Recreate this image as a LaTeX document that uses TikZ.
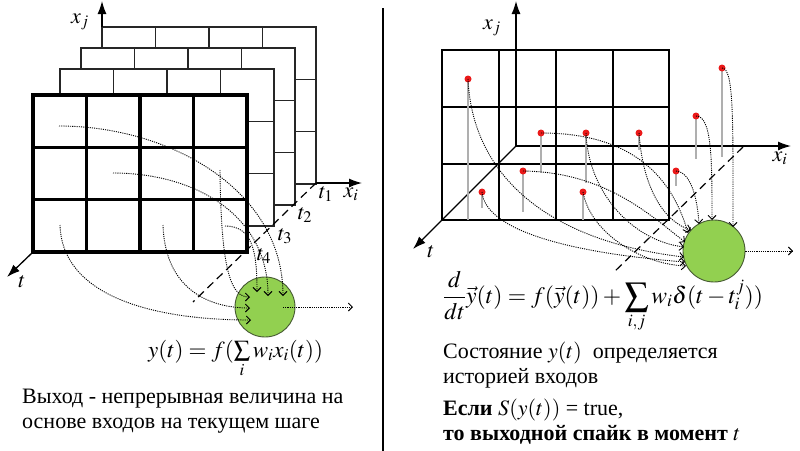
\documentclass[tikz,border=0pt]{standalone}
\usepackage{mathptmx}
\usepackage{fontspec}
\setmainfont{Liberation Serif}
\newfontfamily\rutext{Liberation Serif}
\usetikzlibrary{arrows.meta,calc}
\definecolor{neurongreen}{RGB}{146,208,80}
\definecolor{neuronedge}{RGB}{70,90,50}
\definecolor{stemgray}{RGB}{175,175,175}
\definecolor{dotred}{RGB}{235,25,25}
\begin{document}
\begin{tikzpicture}[x=1pt,y=-1pt,
  frontgrid/.style={line width=3.6pt},
  backgrid/.style={line width=1.1pt, draw=black!85},
  rgrid/.style={line width=2pt},
  axisline/.style={line width=1.3pt, -{Latex[length=13pt,width=9pt]}},
  spike/.style={line width=0.9pt, dash pattern=on 1.1pt off 1.1pt, -{Straight Barb[length=4pt,width=8pt]}},
  diag/.style={line width=1.2pt, dash pattern=on 8pt off 5pt},
  neuron/.style={circle, minimum size=60pt, inner sep=0pt, fill=neurongreen, draw=neuronedge, line width=0.9pt},
  spikedot/.style={circle, minimum size=7pt, inner sep=0pt, fill=dotred},
  stem/.style={line width=1.6pt, draw=stemgray},
  lbl/.style={inner sep=0pt, font=\fontsize{22}{26}\selectfont},
  txt/.style={inner sep=0pt, anchor=base west, font=\rutext\fontsize{22}{25}\selectfont},
  formula/.style={inner sep=0pt, anchor=base west, font=\fontsize{23}{27}\selectfont},
]
\useasboundingbox (0,0) rectangle (800,450);
\fill[white] (0,0) rectangle (800,450);

% ================= LEFT PANEL =================
\foreach \X/\Y in {102/27, 81/48, 60/69} {
  \filldraw[backgrid, fill=white] (\X,\Y) rectangle ++(214,157);
  \foreach \i in {1,2,3} \draw[backgrid] (\X+53.5*\i,\Y) -- ++(0,157);
  \foreach \j in {1,2} \draw[backgrid] (\X,\Y+52.33*\j) -- ++(214,0);
}
\filldraw[frontgrid, fill=white] (33,95) rectangle (247,252);
\foreach \i in {1,2,3} \draw[frontgrid] (33+53.5*\i,95) -- ++(0,157);
\foreach \j in {1,2} \draw[frontgrid] (33,95+52.33*\j) -- ++(214,0);

\coordinate (Lo) at (102,27);
\coordinate (Lxj) at (102,1);
\coordinate (Li0) at (316,183);
\coordinate (Lxi) at (362,183);
\coordinate (Lt0) at (33,252);
\coordinate (Lt) at (7,277);
\draw[axisline] (Lo) -- (Lxj);
\draw[axisline] (Li0) -- (Lxi);
\draw[axisline] (Lt0) -- (Lt);
\node[lbl] (LxjL) at (80,22) {$x_j$};
\node[lbl] (LxiL) at (351,194) {$x_i$};
\node[lbl] (LtL) at (22,282) {$t$};

\coordinate (Ld1) at (316,183);
\coordinate (Ld2) at (193,302);
\draw[diag] (Ld1) -- (Ld2);
\node[lbl] (t1) at (326,194) {$t_1$};
\node[lbl] (t2) at (305,215) {$t_2$};
\node[lbl] (t3) at (285,236) {$t_3$};
\node[lbl] (t4) at (264,256) {$t_4$};

\node[neuron] (nL) at (265,307) {};

\coordinate (s1) at (59,126);
\coordinate (s2) at (113,173);
\coordinate (s3) at (220,170);
\coordinate (s4) at (60,225);
\coordinate (s5) at (163,225);
\coordinate (s6) at (225,226);
\coordinate (e1) at (283,296);
\coordinate (e2) at (268,296);
\coordinate (e3) at (250,297);
\coordinate (e4) at (251,320);
\coordinate (e5) at (250,308);
\coordinate (e6) at (257,292);
\draw[spike] (s1) .. controls (170,126) and (283,190) .. (e1);
\draw[spike] (s2) .. controls (195,173) and (268,215) .. (e2);
\draw[spike] (s3) .. controls (221,275) and (232,297) .. (e3);
\draw[spike] (s4) .. controls (62,295) and (150,320) .. (e4);
\draw[spike] (s5) .. controls (165,290) and (210,308) .. (e5);
\draw[spike] (s6) .. controls (252,226) and (257,250) .. (e6);

\coordinate (Lout0) at ($(nL)+(18,0)$);
\coordinate (Lout) at (353,307);
\draw[spike] (Lout0) -- (Lout);

\node[formula] (fL) at (148,357) {$y(t)=f(\sum\limits_i w_i x_i(t))$};

\node[txt] (tL1) at (22,403) {Выход - непрерывная величина на};
\node[txt] (tL2) at (22,428) {основе входов на текущем шаге};

\coordinate (div1) at (383,8);
\coordinate (div2) at (383,451);
\draw[line width=2.6pt] (div1) -- (div2);

% ================= RIGHT PANEL =================
\draw[rgrid] (442,50) rectangle (669,220);
\foreach \xx in {499,556,613} \draw[rgrid] (\xx,50) -- (\xx,220);
\foreach \yy in {107,164} \draw[rgrid] (442,\yy) -- (669,\yy);

\coordinate (Ro) at (516,146);
\coordinate (Rxj) at (516,1);
\coordinate (Rxi) at (791,146);
\coordinate (Rt) at (413,249);
\draw[axisline] (Ro) -- (Rxj);
\draw[axisline] (Ro) -- (Rxi);
\draw[axisline] (Ro) -- (Rt);
\node[lbl] (RxjL) at (492,28) {$x_j$};
\node[lbl] (RxiL) at (780,158) {$x_i$};
\node[lbl] (RtL) at (431,252) {$t$};

\coordinate (Rd1) at (743,147);
\coordinate (Rd2) at (613,273);
\draw[diag] (Rd1) -- (Rd2);

\node[neuron, minimum size=62pt] (nR) at (714,251) {};

\draw[stem] (468,79) -- (468,220);
\draw[stem] (541,133) -- (541,173);
\draw[stem] (586,133) -- (586,183);
\draw[stem] (639,133) -- (639,150);
\draw[stem] (722,68) -- (722,157);
\draw[stem] (696,116) -- (696,159);
\draw[stem] (523,171) -- (523,212);
\draw[stem] (482,192) -- (482,208);
\draw[stem] (583,192) -- (583,220);
\draw[stem] (676,171) -- (676,186);
\node[spikedot] (d1) at (468,79) {};
\node[spikedot] (d2) at (541,133) {};
\node[spikedot] (d3) at (586,133) {};
\node[spikedot] (d4) at (639,133) {};
\node[spikedot] (d5) at (722,68) {};
\node[spikedot] (d6) at (696,116) {};
\node[spikedot] (d7) at (523,171) {};
\node[spikedot] (d8) at (482,192) {};
\node[spikedot] (d9) at (583,192) {};
\node[spikedot] (d10) at (676,171) {};

\coordinate (f1) at (684,257);
\coordinate (f2) at (688,233);
\coordinate (f3) at (684,247);
\coordinate (f4) at (691,230);
\coordinate (f5) at (733,227);
\coordinate (f6) at (712,220);
\coordinate (f7) at (685,242);
\coordinate (f8) at (685,262);
\coordinate (f9) at (686,266);
\coordinate (f10) at (699,224);
\draw[spike] (d1.center) .. controls (472,170) and (540,240) .. (f1);
\draw[spike] (d2.center) .. controls (625,133) and (670,170) .. (f2);
\draw[spike] (d3.center) .. controls (588,190) and (630,240) .. (f3);
\draw[spike] (d4.center) .. controls (643,190) and (665,222) .. (f4);
\draw[spike] (d5.center) .. controls (734,68) and (733,120) .. (f5);
\draw[spike] (d6.center) .. controls (712,116) and (712,160) .. (f6);
\draw[spike] (d7.center) .. controls (605,172) and (650,215) .. (f7);
\draw[spike] (d8.center) .. controls (485,228) and (560,252) .. (f8);
\draw[spike] (d9.center) .. controls (590,232) and (640,264) .. (f9);
\draw[spike] (d10.center) .. controls (690,172) and (697,195) .. (f10);

\coordinate (Rout) at (793,251);
\draw[spike] (nR.east) -- (Rout);

\node[formula, font=\fontsize{23.6}{27}\selectfont] (fR) at (443,303) {$\displaystyle\frac{d}{dt}\vec{y}(t)=f(\vec{y}(t))+\sum\limits_{i,j}w_i\delta(t-t_i^j))$};

\node[txt] (tR1) at (443,358) {Состояние $y(t)$\ \ определяется};
\node[txt] (tR2) at (443,383) {историей входов};
\node[txt] (tR3) at (443,415) {\textbf{Если} $S(y(t))$ = true,};
\node[txt] (tR4) at (443,440) {\textbf{то выходной спайк в момент} $t$};
\end{tikzpicture}
\end{document}
